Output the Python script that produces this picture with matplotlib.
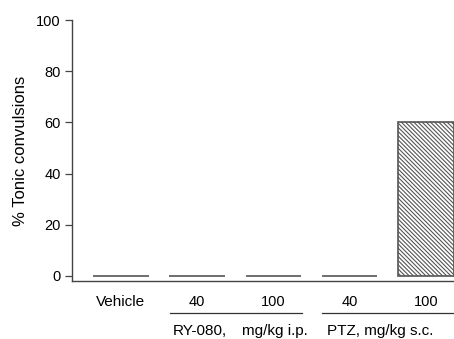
import matplotlib.pyplot as plt
from matplotlib.transforms import blended_transform_factory

plt.rcParams['font.family'] = ['Liberation Sans', 'DejaVu Sans']
plt.rcParams['hatch.color'] = "#444444"
plt.rcParams['hatch.linewidth'] = 0.8

# data
groups = ["Vehicle", "40", "100", "40", "100"]
tonic = [0, 0, 0, 0, 60]
yticks = [0, 20, 40, 60, 80, 100]

fig = plt.figure(figsize=(4.54, 3.39), dpi=100)
ax = fig.add_axes([72 / 454, 1 - 281 / 339, 1 - 72 / 454, 261 / 339])

x = list(range(len(groups)))
ax.bar(x, tonic, width=0.73, facecolor="white", edgecolor="#555555",
       linewidth=1.2, hatch="\\" * 8)

ax.set_xlim(-0.643, 4.37)
ax.set_ylim(-2, 100)
ax.set_yticks(yticks)
ax.set_xticks(x)
ax.set_xticklabels(groups)
ax.set_ylabel("% Tonic convulsions", fontsize=12, labelpad=6)

for s in ["top", "right"]:
    ax.spines[s].set_visible(False)
for s in ["left", "bottom"]:
    ax.spines[s].set_color("#444444")
    ax.spines[s].set_linewidth(1.0)

ax.tick_params(axis="y", length=5, width=0.9, color="#444444", labelsize=10.5, pad=3)
ax.tick_params(axis="x", length=0, labelsize=10.5, pad=10)
ax.get_xticklabels()[0].set_fontsize(11)

# group brackets below the axis
tr = blended_transform_factory(ax.transData, ax.transAxes)
ax.plot([0.643, 2.375], [-0.1226, -0.1226], color="#333333", lw=0.9,
        transform=tr, clip_on=False)
ax.plot([2.64, 4.37], [-0.1226, -0.1226], color="#333333", lw=0.9,
        transform=tr, clip_on=False)
ax.text(1.03, -0.192, "RY-080,", transform=tr, ha="center", va="center", fontsize=11)
ax.text(2.02, -0.192, "mg/kg i.p.", transform=tr, ha="center", va="center", fontsize=11)
ax.text(3.40, -0.192, "PTZ, mg/kg s.c.", transform=tr, ha="center", va="center", fontsize=11)

fig.savefig("out.png", dpi=100)
